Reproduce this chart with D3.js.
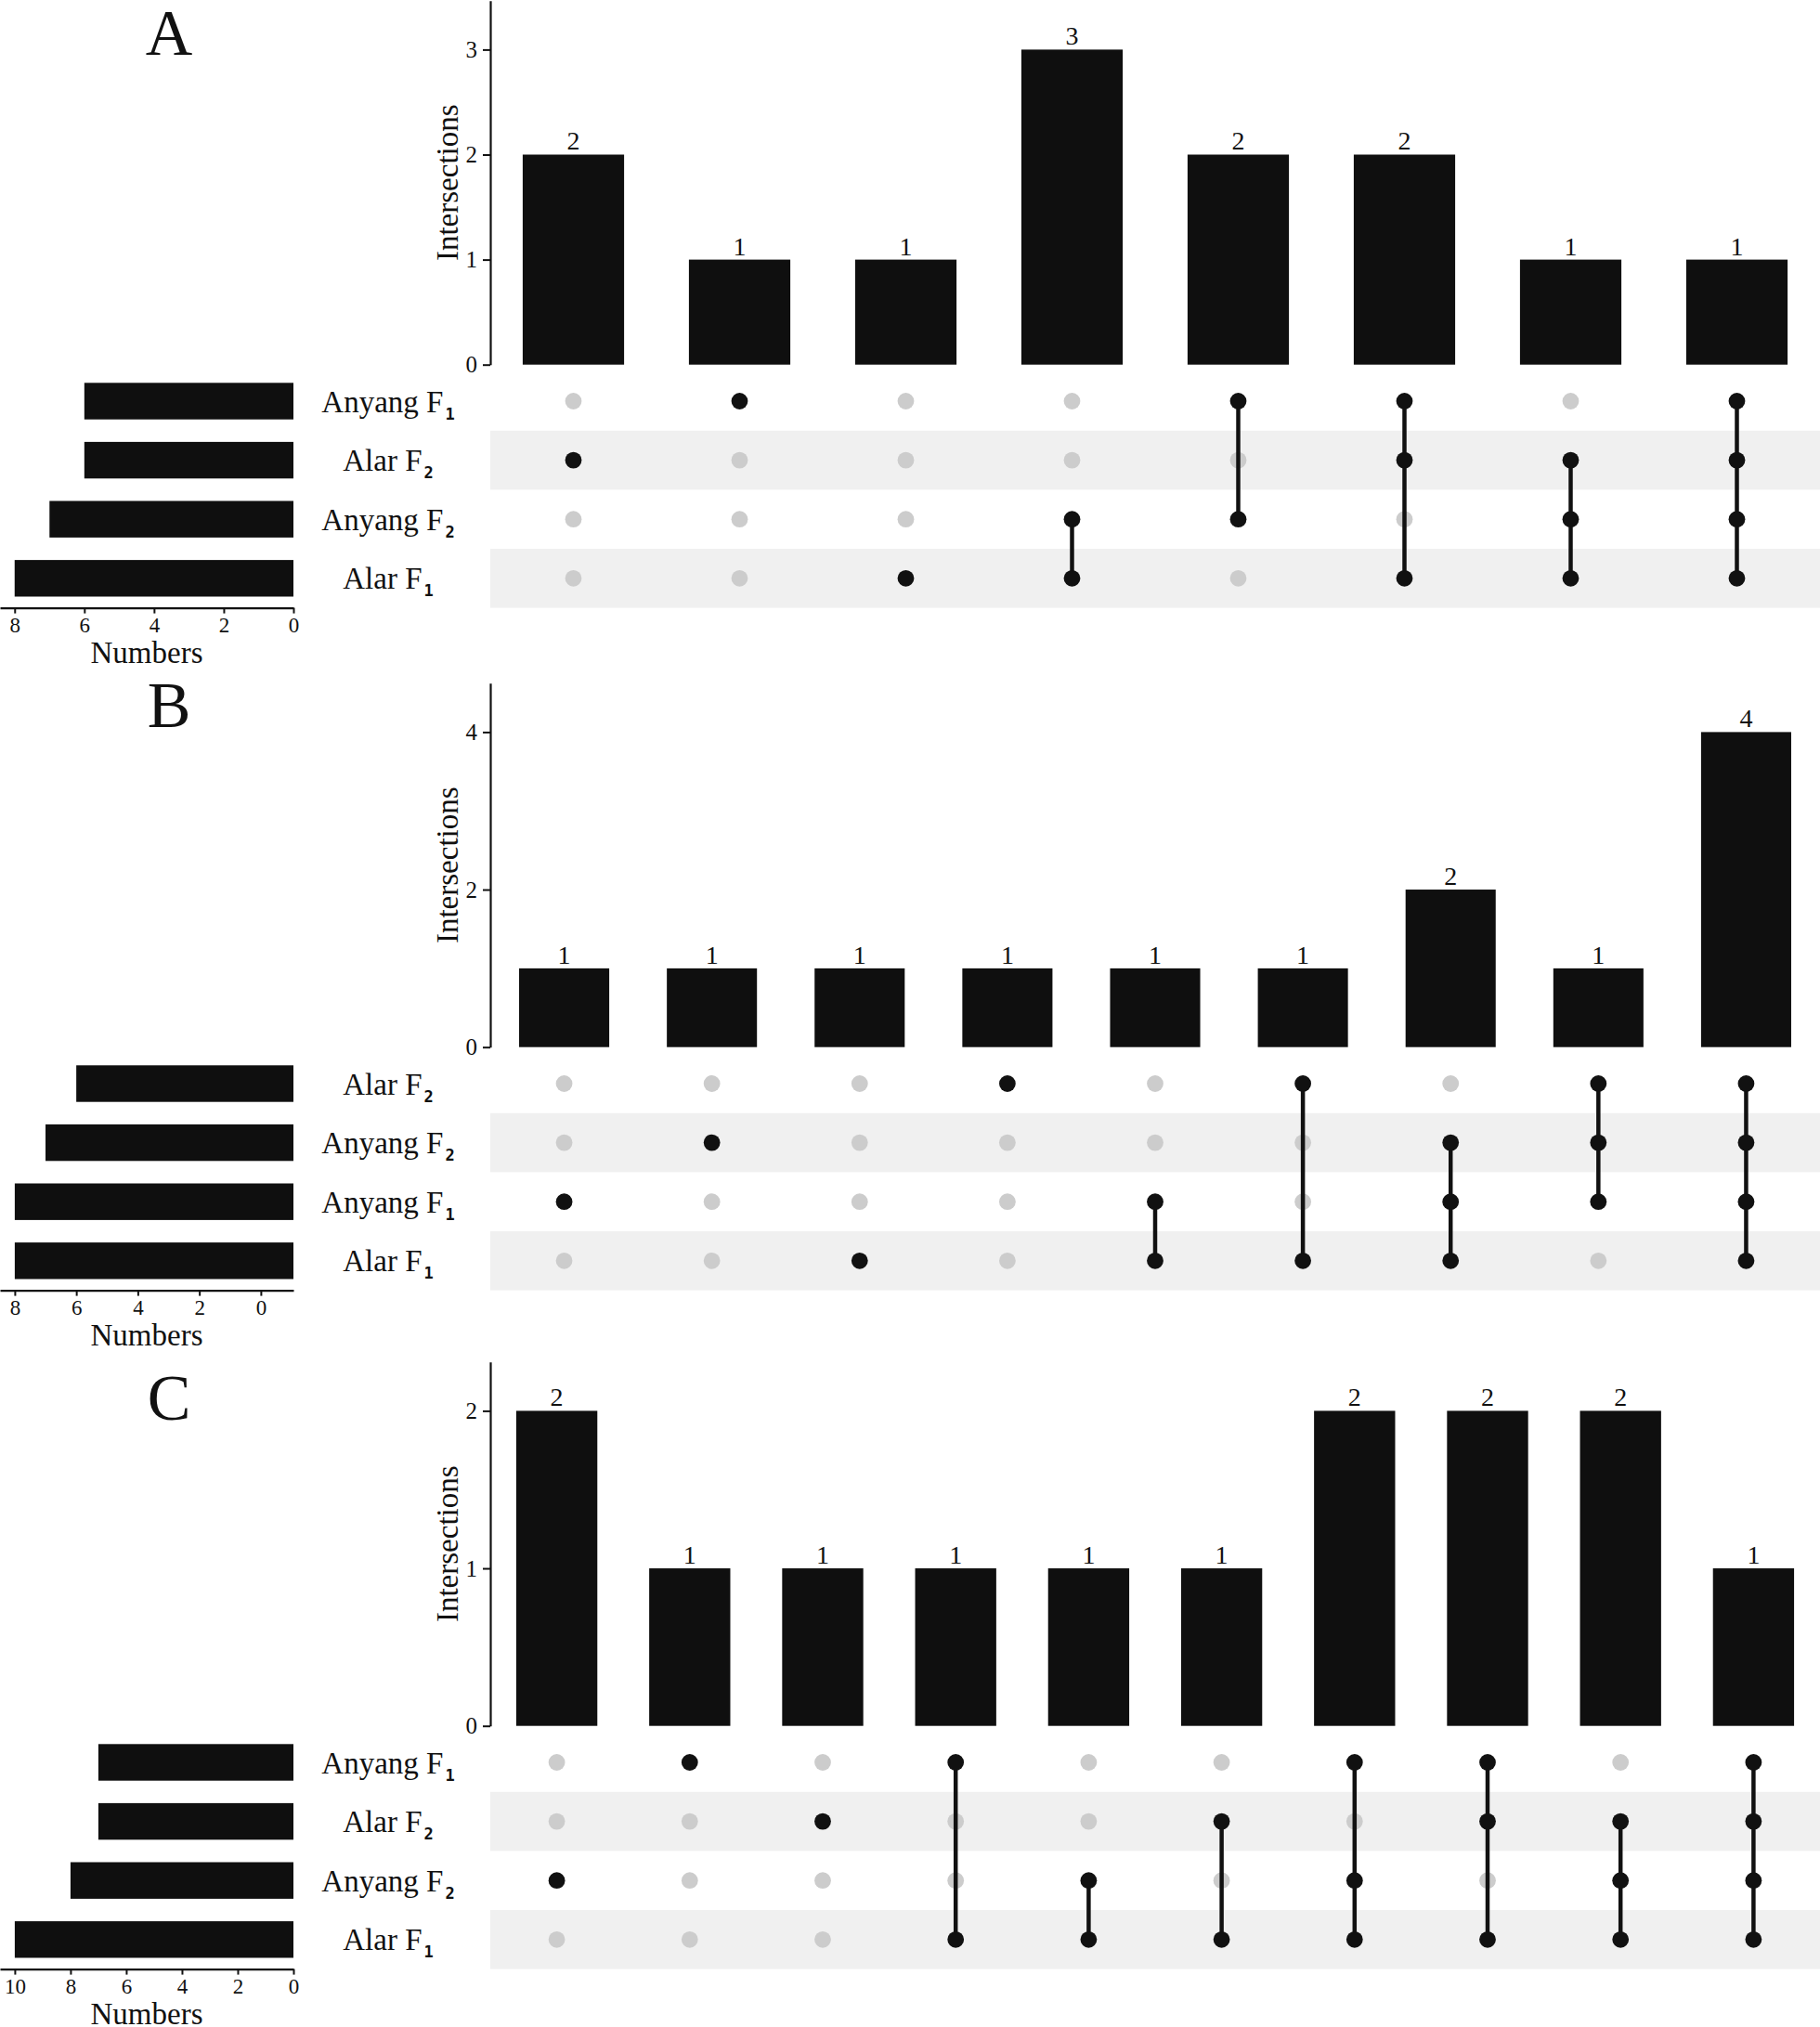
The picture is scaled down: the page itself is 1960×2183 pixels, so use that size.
<!DOCTYPE html>
<html>
<head>
<meta charset="utf-8">
<script src="https://cdn.jsdelivr.net/npm/d3@7"></script>
<style>
  html, body { margin: 0; padding: 0; background: #fff; }
  svg { display: block; }
  text { font-family: "Liberation Serif", "Times New Roman", serif; fill: #111; }
</style>
</head>
<body>
<svg id="chart" width="1960" height="2183"></svg>
<script>
// ---------------- DATA ----------------
const panelLetters = ["A", "B", "C"];

// Panel A
const setsA = ["Anyang F1", "Alar F2", "Anyang F2", "Alar F1"];
const setSizesA = [6, 6, 7, 8];
const interValuesA = [2, 1, 1, 3, 2, 2, 1, 1];
const interMembersA = [
  ["Alar F2"],
  ["Anyang F1"],
  ["Alar F1"],
  ["Anyang F2", "Alar F1"],
  ["Anyang F1", "Anyang F2"],
  ["Anyang F1", "Alar F2", "Alar F1"],
  ["Alar F2", "Anyang F2", "Alar F1"],
  ["Anyang F1", "Alar F2", "Anyang F2", "Alar F1"]
];
const yTicksA = [0, 1, 2, 3];
const setTicksA = [0, 2, 4, 6, 8];
const setDomainA = [0, 8.42];

// Panel B
const setsB = ["Alar F2", "Anyang F2", "Anyang F1", "Alar F1"];
const setSizesB = [6, 7, 8, 8];
const interValuesB = [1, 1, 1, 1, 1, 1, 2, 1, 4];
const interMembersB = [
  ["Anyang F1"],
  ["Anyang F2"],
  ["Alar F1"],
  ["Alar F2"],
  ["Anyang F1", "Alar F1"],
  ["Alar F2", "Alar F1"],
  ["Anyang F2", "Anyang F1", "Alar F1"],
  ["Alar F2", "Anyang F2", "Anyang F1"],
  ["Alar F2", "Anyang F2", "Anyang F1", "Alar F1"]
];
const yTicksB = [0, 2, 4];
const setTicksB = [0, 2, 4, 6, 8];
const setDomainB = [-1.06, 8.48];

// Panel C
const setsC = ["Anyang F1", "Alar F2", "Anyang F2", "Alar F1"];
const setSizesC = [7, 7, 8, 10];
const interValuesC = [2, 1, 1, 1, 1, 1, 2, 2, 2, 1];
const interMembersC = [
  ["Anyang F2"],
  ["Anyang F1"],
  ["Alar F2"],
  ["Anyang F1", "Alar F1"],
  ["Anyang F2", "Alar F1"],
  ["Alar F2", "Alar F1"],
  ["Anyang F1", "Anyang F2", "Alar F1"],
  ["Anyang F1", "Alar F2", "Alar F1"],
  ["Alar F2", "Anyang F2", "Alar F1"],
  ["Anyang F1", "Alar F2", "Anyang F2", "Alar F1"]
];
const yTicksC = [0, 1, 2];
const setTicksC = [0, 2, 4, 6, 8, 10];
const setDomainC = [0, 10.53];

// ---------------- LAYOUT ----------------
const panels = [
  { letter: panelLetters[0], sets: setsA, sizes: setSizesA, values: interValuesA, members: interMembersA, yTicks: yTicksA, setTicks: setTicksA, setDomain: setDomainA, off: 0,    letterY: 59 },
  { letter: panelLetters[1], sets: setsB, sizes: setSizesB, values: interValuesB, members: interMembersB, yTicks: yTicksB, setTicks: setTicksB, setDomain: setDomainB, off: 735,  letterY: 783 },
  { letter: panelLetters[2], sets: setsC, sizes: setSizesC, values: interValuesC, members: interMembersC, yTicks: yTicksC, setTicks: setTicksC, setDomain: setDomainC, off: 1466, letterY: 1529 }
];

const G = {
  axisX: 528, right: 1960,
  zeroY: 392.7, topY: 0.8,
  rowTop: 400.2, rowH: 63.6,
  setLeft: 0, setRight: 316,
  nameX: 418,
  barColor: "#0f0f0f", dotOff: "#cccccc", dotOn: "#111111", band: "#f0f0f0"
};

const svg = d3.select("#chart");

panels.forEach(p => {
  const g = svg.append("g").attr("transform", `translate(0,${p.off})`);
  const n = p.values.length;

  // scales
  const x = d3.scaleBand().domain(d3.range(n)).range([G.axisX, G.right])
    .paddingInner(0.39).paddingOuter(0.195);
  const ymax = d3.max(p.values) * 1.155;
  const y = d3.scaleLinear().domain([0, ymax]).range([G.zeroY, G.topY]);
  const rowY = d3.scaleBand().domain(p.sets).range([G.rowTop, G.rowTop + G.rowH * p.sets.length]);
  const sx = d3.scaleLinear().domain(p.setDomain).range([G.setRight, G.setLeft]);

  // panel letter
  g.append("text").attr("x", 182).attr("y", p.letterY - p.off)
    .attr("text-anchor", "middle").attr("font-size", 70).text(p.letter);

  // ---- intersection bars ----
  g.selectAll("rect.ibar").data(p.values).join("rect")
    .attr("class", "ibar")
    .attr("x", (d, i) => x(i)).attr("width", x.bandwidth())
    .attr("y", d => y(d)).attr("height", d => y(0) - y(d))
    .attr("fill", G.barColor);

  g.selectAll("text.ilab").data(p.values).join("text")
    .attr("class", "ilab")
    .attr("x", (d, i) => x(i) + x.bandwidth() / 2)
    .attr("y", d => y(d) - 5)
    .attr("text-anchor", "middle").attr("font-size", 28)
    .text(d => d);

  // y axis
  const yAxis = d3.axisLeft(y).tickValues(p.yTicks).tickFormat(d3.format("d"))
    .tickSize(8).tickPadding(6).tickSizeOuter(0);
  const ya = g.append("g").attr("transform", `translate(${G.axisX},0)`).call(yAxis);
  ya.select(".domain").attr("stroke", "#111").attr("stroke-width", 2.2);
  ya.selectAll(".tick line").attr("stroke", "#111").attr("stroke-width", 2);
  ya.selectAll(".tick text").attr("font-size", 25).attr("fill", "#111");

  g.append("text")
    .attr("transform", `translate(493,${(G.zeroY + G.topY) / 2}) rotate(-90)`)
    .attr("text-anchor", "middle").attr("font-size", 33).text("Intersections");

  // ---- matrix ----
  g.selectAll("rect.band").data(p.sets.filter((s, i) => i % 2 === 1)).join("rect")
    .attr("class", "band")
    .attr("x", G.axisX).attr("width", G.right - G.axisX)
    .attr("y", d => rowY(d)).attr("height", rowY.bandwidth())
    .attr("fill", G.band);

  const cells = [];
  p.members.forEach((m, i) => p.sets.forEach(s => cells.push({ col: i, set: s, on: m.includes(s) })));

  g.selectAll("circle.off").data(cells.filter(c => !c.on)).join("circle")
    .attr("class", "off")
    .attr("cx", c => x(c.col) + x.bandwidth() / 2)
    .attr("cy", c => rowY(c.set) + rowY.bandwidth() / 2)
    .attr("r", 8.9).attr("fill", G.dotOff);

  g.selectAll("line.conn").data(p.members.map((m, i) => ({ col: i, m })).filter(d => d.m.length > 1)).join("line")
    .attr("class", "conn")
    .attr("x1", d => x(d.col) + x.bandwidth() / 2)
    .attr("x2", d => x(d.col) + x.bandwidth() / 2)
    .attr("y1", d => d3.min(d.m, s => rowY(s)) + rowY.bandwidth() / 2)
    .attr("y2", d => d3.max(d.m, s => rowY(s)) + rowY.bandwidth() / 2)
    .attr("stroke", G.dotOn).attr("stroke-width", 4.5);

  g.selectAll("circle.on").data(cells.filter(c => c.on)).join("circle")
    .attr("class", "on")
    .attr("cx", c => x(c.col) + x.bandwidth() / 2)
    .attr("cy", c => rowY(c.set) + rowY.bandwidth() / 2)
    .attr("r", 8.9).attr("fill", G.dotOn);

  // set names with subscript
  const names = g.selectAll("text.sname").data(p.sets).join("text")
    .attr("class", "sname")
    .attr("x", G.nameX)
    .attr("y", d => rowY(d) + rowY.bandwidth() / 2 + 11.5)
    .attr("text-anchor", "middle").attr("font-size", 33);
  names.append("tspan").text(d => d.slice(0, -1));
  names.append("tspan").attr("dy", 8).attr("dx", 2).attr("font-size", 17).attr("font-weight", "bold")
    .attr("font-family", "DejaVu Sans Mono, monospace")
    .text(d => d.slice(-1));

  // ---- set size bars ----
  const sbH = 39.4;
  g.selectAll("rect.sbar").data(p.sets).join("rect")
    .attr("class", "sbar")
    .attr("x", (d, i) => sx(p.sizes[i]))
    .attr("width", (d, i) => G.setRight - sx(p.sizes[i]))
    .attr("y", d => rowY(d) + (rowY.bandwidth() - sbH) / 2)
    .attr("height", sbH)
    .attr("fill", G.barColor);

  const axisY = G.rowTop + G.rowH * p.sets.length;
  const xAxis = d3.axisBottom(sx).tickValues(p.setTicks).tickFormat(d3.format("d"))
    .tickSize(6).tickPadding(4).tickSizeOuter(0);
  const xa = g.append("g").attr("transform", `translate(0,${axisY})`).call(xAxis);
  xa.select(".domain").attr("stroke", "#111").attr("stroke-width", 2.2);
  xa.selectAll(".tick line").attr("stroke", "#111").attr("stroke-width", 2);
  xa.selectAll(".tick text").attr("font-size", 23).attr("fill", "#111");

  g.append("text").attr("x", 158).attr("y", axisY + 59)
    .attr("text-anchor", "middle").attr("font-size", 33).text("Numbers");
});
</script>
</body>
</html>
